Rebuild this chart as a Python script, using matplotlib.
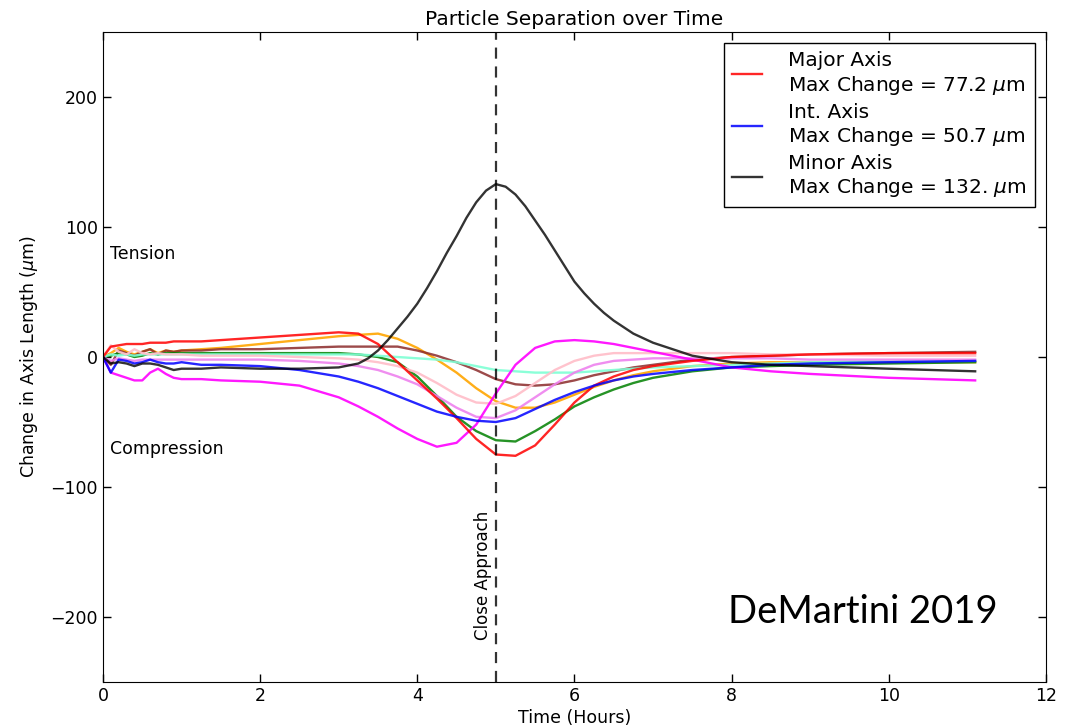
import matplotlib
matplotlib.use("Agg")
import matplotlib.pyplot as plt

# -----------------------------
#  Sampled axis-length changes (micrometres) vs time (hours)
# -----------------------------
time_h = [0, 0.1, 0.2, 0.3, 0.4, 0.5, 0.6, 0.7, 0.8, 0.9, 1.0, 1.25, 1.5,
          2.0, 2.5, 3.0, 3.25, 3.5, 3.75, 4.0, 4.25, 4.5, 4.75, 5.0, 5.25,
          5.5, 5.75, 6.0, 6.25, 6.5, 6.75, 7.0, 7.5, 8.0, 8.5, 9.0, 10.0, 11.1]

major = [0, 8, 9, 10, 10, 10, 11, 11, 11, 12, 12, 12, 13,
         15, 17, 19, 18, 10, -4, -18, -32, -47, -63, -75, -76,
         -68, -52, -35, -22, -15, -10, -7, -3, 0, 1, 2, 3, 3]

inter = [0, -12, -2, -3, -5, -4, -2, -4, -5, -5, -4, -6, -6,
         -7, -10, -15, -19, -24, -30, -36, -42, -46, -49, -50, -47,
         -40, -33, -27, -22, -18, -15, -13, -10, -8, -6, -5, -4, -3]

# minor axis is sampled more finely through the close-approach peak
minor_time = [0, 0.1, 0.2, 0.3, 0.4, 0.5, 0.6, 0.7, 0.8, 0.9, 1.0, 1.25, 1.5,
              2.0, 2.5, 3.0, 3.25, 3.375, 3.5, 3.625, 3.75, 3.875, 4.0, 4.125,
              4.25, 4.375, 4.5, 4.625, 4.75, 4.875, 5.0, 5.125, 5.25, 5.375,
              5.5, 5.625, 5.75, 5.875, 6.0, 6.125, 6.25, 6.375, 6.5, 6.75,
              7.0, 7.5, 8.0, 8.5, 9.0, 10.0, 11.1]
minor = [0, -5, -4, -5, -7, -5, -5, -6, -8, -10, -9, -9, -8,
         -9, -9, -8, -5, -1, 5, 13, 22, 31, 41, 53,
         66, 80, 93, 107, 119, 128, 133, 131, 125, 116,
         105, 94, 82, 70, 58, 49, 41, 34, 28, 18,
         11, 1, -4, -6, -7, -9, -11]

orange_s = [0, 3, 7, 4, 2, 4, 6, 3, 5, 4, 5, 6, 7,
            10, 13, 16, 17, 18, 14, 7, -2, -12, -24, -34, -39,
            -39, -35, -29, -23, -18, -14, -11, -7, -5, -4, -4, -4, -4]

brown_s = [0, -6, 5, 3, 1, 4, 6, 2, 5, 4, 5, 5, 6,
           6, 7, 8, 8, 8, 8, 5, 1, -4, -10, -17, -21,
           -22, -21, -18, -14, -11, -8, -6, -2, 0, 1, 2, 3, 4]

green_s = [0, 1, 3, 2, 0, 1, 3, 2, 3, 3, 3, 3, 3,
           3, 3, 3, 2, 0, -4, -15, -30, -46, -57, -64, -65,
           -57, -48, -38, -31, -25, -20, -16, -11, -8, -7, -6, -5, -4]

aqua_s = [0, 2, 1, 2, 1, 2, 2, 2, 2, 2, 2, 2, 2,
          2, 2, 2, 2, 1, 0, -1, -2, -4, -7, -10, -11,
          -12, -12, -12, -11, -10, -9, -8, -7, -6, -5, -4, -3, -3]

pink_s = [0, 9, 4, 2, 6, 3, 2, 3, 2, 2, 2, 1, 1,
          1, 0, -1, -2, -4, -7, -12, -20, -29, -35, -36, -30,
          -20, -10, -3, 1, 3, 3, 3, 3, 3, 2, 2, 1, 1]

violet_s = [0, -3, -1, -2, -3, -2, -2, -2, -2, -2, -2, -2, -2,
            -2, -3, -5, -7, -10, -15, -21, -30, -39, -46, -47, -41,
            -31, -21, -12, -6, -3, -2, -1, -1, -1, -1, -2, -2, -2]

magenta_s = [0, -12, -14, -16, -18, -18, -12, -9, -13, -16, -17, -17, -18,
             -19, -22, -31, -38, -46, -55, -63, -69, -66, -52, -28, -6,
             7, 12, 13, 12, 10, 7, 4, -2, -8, -11, -13, -16, -18]

legend_labels = [
    "Major Axis\nMax Change = 77.2 $\\mu$m",
    "Int. Axis\nMax Change = 50.7 $\\mu$m",
    "Minor Axis\nMax Change = 132. $\\mu$m",
]

close_approach_h = 5.0


def make_plot(outpath):
    plt.rcParams["font.family"] = "DejaVu Sans"
    plt.rcParams["mathtext.fontset"] = "dejavusans"
    plt.rcParams["xtick.direction"] = "in"
    plt.rcParams["ytick.direction"] = "in"
    plt.rcParams["xtick.top"] = True
    plt.rcParams["ytick.right"] = True
    plt.rcParams["lines.solid_joinstyle"] = "round"

    fig = plt.figure(figsize=(10.76, 7.26), dpi=100)
    ax = fig.add_axes([0.0957, 0.0606, 0.8763, 0.8953])

    lw = 1.7
    # background traces first, legend traces on top
    ax.plot(time_h, orange_s, color="orange", lw=lw, alpha=0.9)
    ax.plot(time_h, brown_s, color="#8b2a2a", lw=lw, alpha=0.85)
    ax.plot(time_h, green_s, color="green", lw=lw, alpha=0.85)
    ax.plot(time_h, aqua_s, color="aquamarine", lw=lw, alpha=0.9)
    ax.plot(time_h, pink_s, color="pink", lw=lw, alpha=0.95)
    ax.plot(time_h, violet_s, color="violet", lw=lw, alpha=0.9)
    ax.plot(time_h, magenta_s, color="magenta", lw=lw, alpha=0.9)
    l1, = ax.plot(time_h, major, color="red", lw=lw, alpha=0.85)
    l2, = ax.plot(time_h, inter, color="blue", lw=lw, alpha=0.85)
    l3, = ax.plot(minor_time, minor, color="black", lw=lw, alpha=0.8)

    ax.axvline(close_approach_h, color="black", lw=1.6, ls=(0, (5, 3.5)), alpha=0.8)
    ax.text(close_approach_h - 0.05, -168, "Close Approach", rotation=90,
            ha="right", va="center", fontsize=12)

    ax.text(0.09, 79, "Tension", ha="left", va="center", fontsize=12.5)
    ax.text(0.09, -71, "Compression", ha="left", va="center", fontsize=12.5)

    leg = ax.legend([l1, l2, l3], legend_labels, loc="upper right",
                    fontsize=14.5, fancybox=False, framealpha=1,
                    edgecolor="black", handlelength=1.5, handletextpad=1.3,
                    borderaxespad=0.55, labelspacing=0.3)
    leg.get_frame().set_linewidth(1.0)

    ax.set_xlim(0, 12)
    ax.set_ylim(-250, 250)
    ax.set_xticks(range(0, 13, 2))
    ax.set_yticks([-200, -100, 0, 100, 200])
    ax.tick_params(labelsize=12.5, length=6, width=1)
    ax.set_xlabel("Time (Hours)", fontsize=12.5, labelpad=3)
    ax.set_ylabel("Change in Axis Length ($\\mu$m)", fontsize=12.5, labelpad=8)
    ax.set_title("Particle Separation over Time", fontsize=14.5, pad=5)

    fig.text(0.677, 0.157, "DeMartini 2019", fontsize=27.5, family="Lato",
             ha="left", va="center")

    fig.savefig(outpath, dpi=100)
    plt.close(fig)


if __name__ == "__main__":
    make_plot("out.png")
